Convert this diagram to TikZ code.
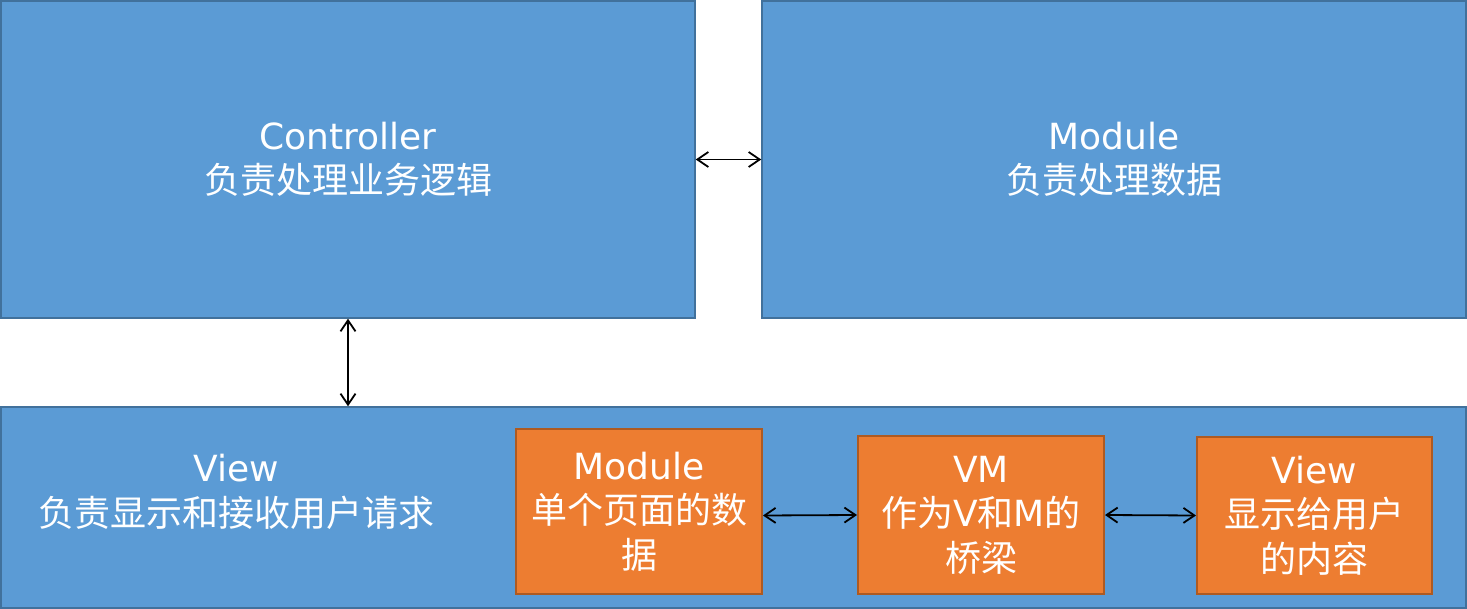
\documentclass[tikz,border=0pt]{standalone}
\usepackage{fontspec}
\setmainfont{DejaVu Sans}
\newfontfamily\cjk{Noto Sans CJK SC}
\usepackage{tikz}
\usetikzlibrary{arrows.meta}
\definecolor{boxblue}{HTML}{5B9BD5}
\definecolor{lineblue}{HTML}{41719C}
\definecolor{boxorange}{HTML}{ED7D31}
\definecolor{lineorange}{HTML}{AE5A21}
\newcommand{\zh}[1]{{\cjk #1}}

\begin{document}
\begin{tikzpicture}[x=1pt, y=-1pt,
		bluebox/.style={draw=lineblue, line width=1.5pt, fill=boxblue, inner sep=0pt},
		orangebox/.style={draw=lineorange, line width=2pt, fill=boxorange, inner sep=0pt},
		lbl/.style={text=white, align=center, font=\fontsize{36}{44.5}\selectfont},
		link/.style={{Straight Barb[length=11pt,width=15pt]}-{Straight Barb[length=11pt,width=15pt]}, line width=1.8pt, black}]
	\useasboundingbox (0,0) rectangle (1467,609);
	\node[bluebox, minimum width=694pt, minimum height=317pt] (ctrl) at (348,159.5) {};
	\node[bluebox, minimum width=704pt, minimum height=317pt] (model) at (1114,159.5) {};
	\node[bluebox, minimum width=1465pt, minimum height=201pt] (view) at (733.5,507.5) {};
	\node[lbl] (ctrltxt) at (ctrl) {Controller\\\zh{负责处理业务逻辑}};
	\node[lbl] (modeltxt) at (model) {Module\\\zh{负责处理数据}};
	\node[lbl] (viewtxt) at (236,492) {View\\\zh{负责显示和接收用户请求}};
	\node[orangebox, minimum width=246pt, minimum height=165pt] (m) at (639,511.5) {};
	\node[orangebox, minimum width=246pt, minimum height=158pt] (vm) at (981,515) {};
	\node[orangebox, minimum width=235pt, minimum height=157pt] (v) at (1314.5,515.5) {};
	\node[lbl] (mtxt) at (m) {Module\\\zh{单个页面的数}\\\zh{据}};
	\node[lbl] (vmtxt) at (vm) {VM\\\zh{作为}V\zh{和}M\zh{的}\\\zh{桥梁}};
	\node[lbl] (vtxt) at (v) {View\\\zh{显示给用户}\\\zh{的内容}};
	\draw[link] (ctrl.east) -- (model.west);
	\draw[link] (ctrl.south) -- (ctrl.south |- view.north);
	\draw[link] ([yshift=-4pt]m.east) -- (vm.west);
	\draw[link] (vm.east) -- (v.west);
\end{tikzpicture}
\end{document}
